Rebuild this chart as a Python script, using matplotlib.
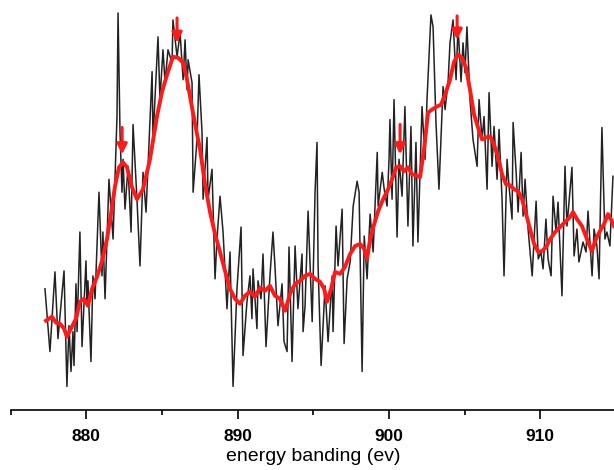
import matplotlib

matplotlib.use("Agg")

import matplotlib.pyplot as plt
from matplotlib.ticker import MultipleLocator


# Raw spectrum (black, noisy)
raw_energy = [
    877.27, 877.60, 877.93, 878.13, 878.53, 878.72, 878.86, 878.99, 879.12, 879.19,
    879.32, 879.39, 879.58, 879.72, 879.98, 880.05, 880.11, 880.31, 880.44, 880.58,
    880.84, 881.04, 881.10, 881.24, 881.50, 881.77, 882.03, 882.10, 882.23, 882.36,
    882.43, 882.56, 882.76, 882.96, 883.09, 883.35, 883.55, 883.75, 883.95, 884.35,
    884.41, 884.74, 884.87, 885.07, 885.21, 885.40, 885.67, 885.73, 886.00, 886.20,
    886.40, 886.53, 886.66, 886.73, 886.99, 887.06, 887.32, 887.45, 887.65, 887.72,
    887.98, 888.05, 888.31, 888.51, 888.64, 888.84, 889.04, 889.30, 889.50, 889.70,
    889.96, 890.23, 890.36, 890.62, 890.82, 890.95, 891.02, 891.28, 891.35, 891.55,
    891.68, 891.88, 892.14, 892.34, 892.47, 892.67, 892.94, 893.07, 893.27, 893.40,
    893.60, 893.80, 893.99, 894.26, 894.33, 894.46, 894.66, 894.93, 895.12, 895.25,
    895.32, 895.52, 895.78, 895.98, 896.25, 896.31, 896.51, 896.64, 896.91, 897.04,
    897.24, 897.44, 897.64, 897.90, 898.03, 898.23, 898.37, 898.56, 898.76, 898.96,
    899.23, 899.29, 899.56, 899.69, 899.88, 900.01, 900.07, 900.21, 900.34, 900.54,
    900.67, 900.87, 901.06, 901.26, 901.46, 901.59, 901.79, 901.92, 902.19, 902.39,
    902.52, 902.78, 902.92, 903.11, 903.31, 903.58, 903.71, 903.91, 904.04, 904.24,
    904.44, 904.57, 904.77, 904.90, 905.03, 905.16, 905.36, 905.56, 905.83, 905.96,
    906.16, 906.29, 906.49, 906.62, 906.82, 906.95, 907.15, 907.28, 907.48, 907.61,
    907.81, 907.94, 908.14, 908.21, 908.41, 908.54, 908.74, 908.87, 909.00, 909.20,
    909.47, 909.73, 909.87, 910.05, 910.19, 910.38, 910.52, 910.72, 910.85, 911.05,
    911.18, 911.44, 911.64, 911.77, 912.10, 912.24, 912.43, 912.56, 912.83, 913.03,
    913.16, 913.43, 913.56, 913.75, 913.89, 914.08, 914.28, 914.41, 914.61, 914.81,
]
raw_counts = [
    120, 57, 137, 70, 138, 22, 83, 37, 77, 43,
    125, 77, 177, 62, 148, 103, 128, 47, 133, 110,
    217, 133, 177, 110, 230, 170, 293, 397, 277, 217,
    250, 200, 243, 177, 285, 210, 143, 237, 197, 338,
    270, 373, 310, 360, 327, 360, 347, 390, 353, 377,
    330, 370, 320, 350, 327, 217, 270, 335, 277, 210,
    272, 210, 240, 130, 170, 213, 177, 100, 157, 22,
    120, 182, 53, 107, 133, 90, 140, 80, 128, 110,
    155, 62, 133, 177, 143, 83, 125, 67, 57, 162,
    47, 163, 100, 155, 77, 103, 198, 87, 217, 267,
    143, 43, 123, 67, 133, 77, 183, 143, 200, 65,
    130, 147, 203, 228, 217, 37, 173, 130, 195, 157,
    257, 203, 237, 220, 203, 250, 290, 210, 310, 172,
    250, 213, 303, 183, 283, 163, 267, 167, 303, 250,
    310, 395, 383, 288, 220, 323, 300, 327, 367, 390,
    330, 383, 328, 367, 337, 383, 310, 270, 243, 310,
    270, 293, 220, 317, 243, 283, 230, 280, 210, 133,
    250, 223, 190, 287, 237, 197, 257, 193, 230, 180,
    133, 208, 150, 157, 140, 190, 150, 133, 213, 177,
    207, 113, 243, 183, 242, 153, 180, 147, 167, 157,
    198, 133, 180, 163, 130, 282, 170, 177, 163, 233,
]

# Smoothed spectrum (red)
smooth_energy = [
    877.34, 877.73, 878.00, 878.26, 878.53, 878.72, 879.05, 879.32, 879.58, 879.85,
    880.11, 880.38, 880.71, 881.04, 881.37, 881.63, 881.90, 882.16, 882.43, 882.69,
    883.02, 883.35, 883.75, 884.21, 884.67, 885.01, 885.34, 885.73, 886.07, 886.40,
    886.66, 886.93, 887.26, 887.52, 887.85, 888.18, 888.51, 888.84, 889.17, 889.50,
    889.83, 890.16, 890.49, 890.82, 891.15, 891.48, 891.81, 892.14, 892.47, 892.80,
    893.14, 893.47, 893.80, 894.13, 894.46, 894.79, 895.12, 895.45, 895.72, 895.91,
    896.18, 896.44, 896.77, 897.10, 897.44, 897.77, 898.10, 898.37, 898.56, 898.76,
    899.03, 899.29, 899.62, 899.95, 900.21, 900.48, 900.74, 901.00, 901.26, 901.53,
    901.79, 902.06, 902.32, 902.59, 902.85, 903.18, 903.45, 903.71, 904.04, 904.31,
    904.57, 904.84, 905.10, 905.36, 905.63, 905.89, 906.16, 906.42, 906.69, 906.95,
    907.22, 907.48, 907.74, 908.01, 908.27, 908.54, 908.80, 909.07, 909.33, 909.60,
    909.87, 910.13, 910.40, 910.66, 910.99, 911.32, 911.64, 911.97, 912.17, 912.43,
    912.76, 913.09, 913.42, 913.69, 913.95, 914.22, 914.48, 914.74, 914.88,
]
smooth_counts = [
    88, 92, 86, 85, 80, 72, 82, 90, 107, 110,
    103, 120, 132, 148, 170, 195, 223, 242, 247, 242,
    222, 210, 220, 250, 293, 318, 335, 353, 352, 347,
    330, 307, 280, 260, 225, 197, 175, 157, 138, 120,
    110, 105, 113, 117, 112, 121, 118, 123, 113, 110,
    98, 115, 125, 128, 133, 135, 130, 127, 120, 107,
    120, 137, 135, 142, 155, 163, 165, 160, 150, 170,
    185, 198, 210, 220, 230, 242, 243, 238, 242, 235,
    234, 232, 260, 297, 300, 303, 305, 315, 330, 348,
    355, 352, 342, 320, 295, 282, 270, 272, 273, 265,
    252, 235, 225, 224, 220, 218, 210, 195, 180, 165,
    157, 158, 162, 170, 177, 182, 187, 192, 197, 190,
    183, 170, 158, 170, 178, 185, 195, 188, 183,
]

# Peak markers (red arrows)
arrow_energy = [882.37, 886.00, 900.74, 904.51]
arrow_start = [282, 392, 285, 394]
arrow_end = [255, 367, 255, 370]


def main() -> None:
    plt.rcParams["font.family"] = ["Liberation Sans", "DejaVu Sans"]

    fig = plt.figure(figsize=(6.14, 4.70), dpi=100)
    ax = fig.add_axes([0.0173, 0.127, 0.9857, 0.873])

    ax.plot(raw_energy, raw_counts, color="#222222", linewidth=1.1)
    ax.plot(smooth_energy, smooth_counts, color="#ff1a1a", linewidth=2.8)

    for energy, start, end in zip(arrow_energy, arrow_start, arrow_end):
        ax.annotate(
            "",
            xy=(energy, end),
            xytext=(energy, start),
            arrowprops=dict(
                arrowstyle="-|>,head_length=0.6,head_width=0.3",
                color="#ff1a1a",
                lw=2.2,
                shrinkA=0,
                shrinkB=0,
            ),
        )

    ax.set_xlim(875, 915)
    ax.set_ylim(-2, 410)

    ax.xaxis.set_major_locator(MultipleLocator(10))
    ax.xaxis.set_minor_locator(MultipleLocator(5))
    ax.tick_params(axis="x", which="major", length=6.5, width=1.2, pad=7, labelsize=12.5)
    ax.tick_params(axis="x", which="minor", length=3.5, width=1.2)
    for label in ax.get_xticklabels():
        label.set_fontweight("bold")

    ax.set_yticks([])
    for side in ["left", "top", "right"]:
        ax.spines[side].set_visible(False)
    ax.spines["bottom"].set_linewidth(1.2)

    ax.set_xlabel("energy banding (ev)", fontsize=14)
    ax.xaxis.set_label_coords(0.5, -0.091)

    fig.savefig("out.png", dpi=100)
    plt.close(fig)


if __name__ == "__main__":
    main()
